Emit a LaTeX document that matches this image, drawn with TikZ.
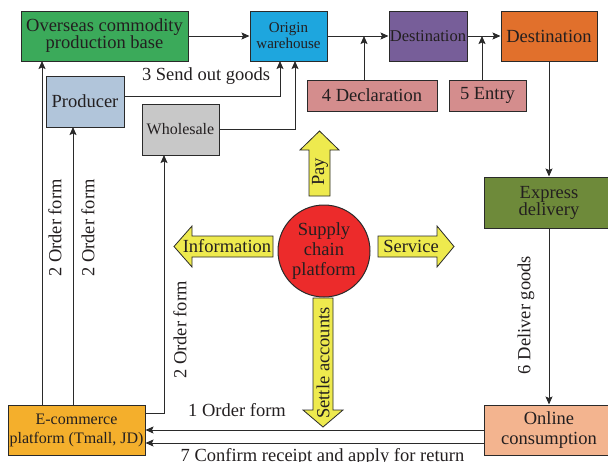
\documentclass[tikz,border=0pt]{standalone}
\usepackage{fontspec}
\setmainfont{Liberation Serif}
\usetikzlibrary{arrows.meta,calc}
\definecolor{ink}{HTML}{231F20}
\definecolor{edge}{HTML}{2A2A2A}
\definecolor{basegreen}{HTML}{3BAA5A}
\definecolor{originblue}{HTML}{1EA6DE}
\definecolor{destpurple}{HTML}{775E99}
\definecolor{destorange}{HTML}{E1702C}
\definecolor{producerblue}{HTML}{B1C5DA}
\definecolor{wholegray}{HTML}{C8C8C8}
\definecolor{customspink}{HTML}{D48D8D}
\definecolor{expressgreen}{HTML}{6E8A3A}
\definecolor{onlinesalmon}{HTML}{F3B48F}
\definecolor{ecomorange}{HTML}{F4AF2C}
\definecolor{hubred}{HTML}{EC2B2B}
\definecolor{pointer}{HTML}{EEEA4E}
\begin{document}
\begin{tikzpicture}[x=1pt,y=-1pt,
  box/.style={draw=edge,line width=1pt,inner sep=0pt,align=center,text=ink,
    font=\fontsize{18.5}{17}\selectfont},
  link/.style={draw=edge,line width=1pt,-{Stealth[length=8pt,width=7pt,inset=1.5pt]}},
  lbl/.style={text=ink,font=\fontsize{18.5}{17}\selectfont,inner sep=0pt},
  fat/.style={draw=edge,line width=0.8pt,fill=pointer,line join=miter}]
\useasboundingbox (0,0) rectangle (608,461);
\clip (0,0) rectangle (608,461);

% top row
\node[box,fill=basegreen,minimum width=167pt,minimum height=50pt] (base) at (104.5,36)
  {Overseas commodity\\production base};
\node[box,fill=originblue,minimum width=77pt,minimum height=50pt,
  font=\fontsize{15}{16}\selectfont] (origin) at (288.5,36) {Origin\\warehouse};
\node[box,fill=destpurple,minimum width=78pt,minimum height=50pt,
  font=\fontsize{16.5}{17}\selectfont] (dest1) at (428,36) {Destination};
\node[box,fill=destorange,minimum width=96pt,minimum height=50pt] (dest2) at (549,36) {Destination};

% suppliers
\node[box,fill=producerblue,minimum width=78pt,minimum height=51pt] (producer) at (85,101.5) {Producer};
\node[box,fill=wholegray,minimum width=77pt,minimum height=51pt,
  font=\fontsize{16}{17}\selectfont] (wholesale) at (180.5,129.5) {Wholesale};

% customs steps
\node[box,fill=customspink,minimum width=130pt,minimum height=31pt] (decl) at (372,95.5) {4 Declaration};
\node[box,fill=customspink,minimum width=77pt,minimum height=31pt] (entry) at (487.5,95.5) {5 Entry};

% delivery side
\node[box,fill=expressgreen,minimum width=130pt,minimum height=51pt] (express) at (549,202.5) {Express\\delivery};
\node[box,fill=onlinesalmon,minimum width=130pt,minimum height=50pt,
  font=\fontsize{18.5}{20}\selectfont] (online) at (549,430) {Online\\consumption};
\node[box,fill=ecomorange,minimum width=137pt,minimum height=50pt,
  font=\fontsize{16}{19}\selectfont] (ecom) at (76.5,430) {E-commerce\\platform (Tmall, JD)};

% platform hub
\node[draw=edge,line width=1pt,fill=hubred,circle,minimum size=92pt,inner sep=0pt,
  align=center,text=ink,font=\fontsize{18.5}{20}\selectfont] (hub) at (324,251)
  {Supply\\chain\\platform};

% hub pointers
\filldraw[fat] (309,196) -- (309,150) -- (300,150) -- (319.5,131) -- (339,150) -- (330,150) -- (330,196) -- cycle;
\node[lbl,rotate=90] (pay) at (320,172) {Pay};
\filldraw[fat] (273,236) -- (192,236) -- (192,226) -- (174,246.5) -- (192,267) -- (192,257) -- (273,257) -- cycle;
\node[lbl] (info) at (227,246.5) {Information};
\filldraw[fat] (378,236) -- (437,236) -- (437,226) -- (454,246.5) -- (437,267) -- (437,257) -- (378,257) -- cycle;
\node[lbl] (service) at (411,246.5) {Service};
\filldraw[fat] (313,298) -- (313,410) -- (303,410) -- (323,427) -- (343,410) -- (333,410) -- (333,298) -- cycle;
\node[lbl,rotate=90] (settle) at (323,363) {Settle accounts};

% tap points on box edges
\coordinate (decltap) at (364,36);
\coordinate (entrytap) at (482,36);
\coordinate (origintapA) at (280,61);
\coordinate (origintapB) at (295,61);
\coordinate (basetap) at (42,61);
\coordinate (producertap) at (73,127);
\coordinate (wholesaletap) at (164,155);

% goods flow along the top
\draw[link] (base.east) -- (origin.west);
\draw[link] (origin.east) -- (dest1.west);
\draw[link] (dest1.east) -- (dest2.west);
\draw[link] (decl.north -| decltap) -- (decltap);
\draw[link] (entry.north -| entrytap) -- (entrytap);
\draw[link] (dest2.south) -- (express.north);
\draw[link] (express.south) -- (online.north);

% suppliers ship to the origin warehouse
\draw[link] ($(producer.east)+(0,-5)$) -| (origintapA);
\draw[link] (wholesale.east) -| (origintapB);

% orders from the platform
\draw[link] (ecom.north -| basetap) -- (basetap);
\draw[link] (ecom.north -| producertap) -- (producertap);
\draw[link] ($(ecom.east)+(0,-17)$) -| (wholesaletap);

% consumer to platform
\draw[link] (online.west) -- (ecom.east);
\draw[link] ($(online.west)+(0,13)$) -- ($(ecom.east)+(0,13)$);

% connector labels
\node[lbl] (sendlbl) at (206,76) {3 Send out goods};
\node[lbl,rotate=90] (orderA) at (55,228) {2 Order form};
\node[lbl,rotate=90] (orderB) at (88,228) {2 Order form};
\node[lbl,rotate=90] (orderC) at (180,330) {2 Order form};
\node[lbl,rotate=90] (deliverlbl) at (526,315) {6 Deliver goods};
\node[lbl] (orderlbl) at (237,410) {1 Order form};
\node[lbl] (confirmlbl) at (322.5,457) {7 Confirm receipt and apply for return};
\end{tikzpicture}
\end{document}
